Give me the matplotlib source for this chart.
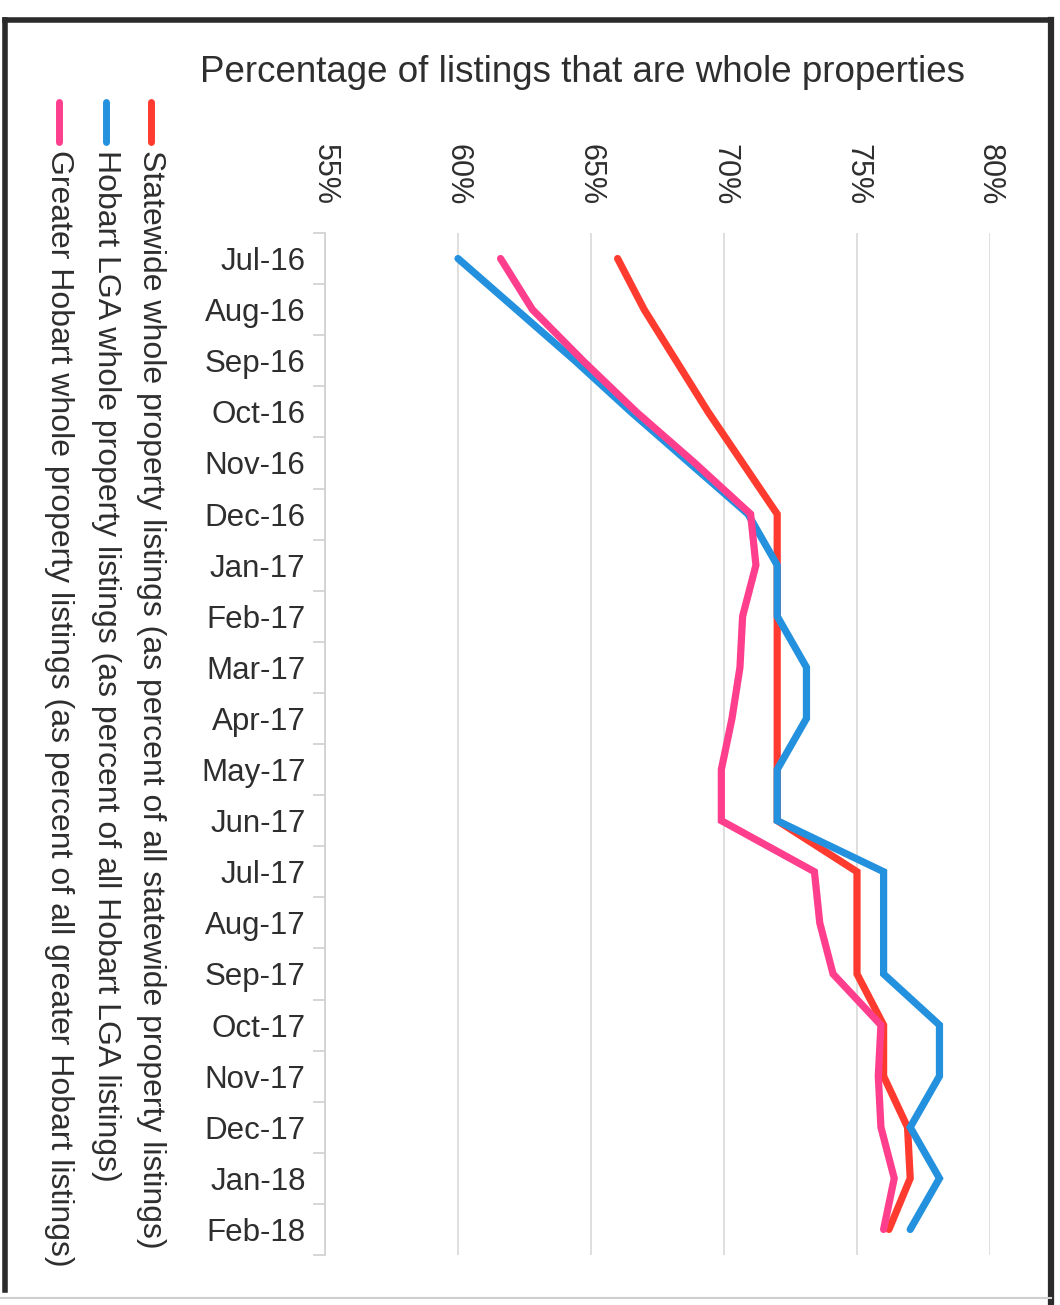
import matplotlib
matplotlib.use("Agg")
import matplotlib.pyplot as plt
from matplotlib.lines import Line2D

plt.rcParams['font.family'] = ['Liberation Sans', 'DejaVu Sans']

# Monthly categories
months = ["Jul-16", "Aug-16", "Sep-16", "Oct-16", "Nov-16", "Dec-16",
          "Jan-17", "Feb-17", "Mar-17", "Apr-17", "May-17", "Jun-17",
          "Jul-17", "Aug-17", "Sep-17", "Oct-17", "Nov-17", "Dec-17",
          "Jan-18", "Feb-18"]

# Percentage of listings that are whole properties
statewide = [66.0, 67.0, 68.2, 69.4, 70.7, 72.0, 72.0, 72.0, 72.0, 72.0,
             72.0, 72.0, 75.0, 75.0, 75.0, 76.0, 76.0, 76.9, 77.0, 76.2]
hobart_lga = [60.0, 62.2, 64.4, 66.5, 68.7, 70.9, 72.0, 72.0, 73.1, 73.1,
              72.0, 72.0, 76.0, 76.0, 76.0, 78.1, 78.1, 77.0, 78.1, 77.0]
greater_hobart = [61.6, 62.8, 64.7, 66.7, 68.9, 71.0, 71.2, 70.7, 70.6, 70.3,
                  69.9, 69.9, 73.4, 73.6, 74.1, 75.9, 75.8, 75.9, 76.4, 76.0]

series_labels = [
    "Statewide whole property listings (as percent of all statewide property listings)",
    "Hobart LGA whole property listings (as percent of all Hobart LGA listings)",
    "Greater Hobart whole property listings (as percent of all greater Hobart listings)",
]
series_colors = ["#FF3B2F", "#2391DE", "#FF3F8E"]
pct_ticks = [55, 60, 65, 70, 75, 80]

title = "Percentage of listings that are whole properties"
text_color = "#2E2E2E"

W, H = 1060, 1305
fig = plt.figure(figsize=(W / 100, H / 100), dpi=100)
fig.patch.set_facecolor("white")

# plot area in pixel terms
left_px, right_px, top_px, bottom_px = 325, 990, 233, 1255
ax = fig.add_axes([left_px / W, 1 - bottom_px / H,
                   (right_px - left_px) / W, (bottom_px - top_px) / H])

pos = list(range(len(months)))
for vals, col in zip([statewide, hobart_lga, greater_hobart], series_colors):
    ax.plot(vals, pos, color=col, lw=5.2, solid_joinstyle="miter",
            solid_capstyle="round", zorder=3)

ax.set_xlim(pct_ticks[0], pct_ticks[-1])
ax.set_ylim(len(months) - 0.5, -0.5)

ax.xaxis.tick_top()
ax.set_xticks(pct_ticks)
ax.set_xticklabels([f"{t}%" for t in pct_ticks], rotation=270,
                   fontsize=22, color=text_color)
ax.tick_params(axis="x", length=0, pad=20)
ax.grid(axis="x", color="#D9D9D9", lw=1.2, zorder=0)

ax.set_yticks(pos)
ax.set_yticklabels(months, fontsize=22.5, color=text_color)
ax.set_yticks([p - 0.5 for p in pos] + [len(months) - 0.5], minor=True)
ax.tick_params(axis="y", which="major", length=0, pad=14)
ax.tick_params(axis="y", which="minor", length=9, width=1.2, color="#D0D0D0")

for side in ["top", "right", "bottom"]:
    ax.spines[side].set_visible(False)
ax.spines["left"].set_color("#D0D0D0")
ax.spines["left"].set_linewidth(1.2)

# Title
fig.text(583 / W, 1 - 72 / H, title, fontsize=26.5, color=text_color,
         ha="center", va="center")

# Legend drawn as vertical entries down the left side
legend_x = [151, 106, 59]
for x, lab, col in zip(legend_x, series_labels, series_colors):
    fig.add_artist(Line2D([x / W, x / W], [1 - 102 / H, 1 - 142 / H],
                          color=col, lw=5, solid_capstyle="round"))
    fig.text(x / W, 1 - 150 / H, lab, rotation=270, fontsize=23,
             color=text_color, ha="center", va="top")

# Frame around the chart
dark = "#2B2B2B"
fig.add_artist(Line2D([5 / W, 1051 / W], [1 - 20 / H, 1 - 20 / H], color=dark, lw=4))
fig.add_artist(Line2D([5 / W, 5 / W], [1 - 20 / H, 1 - 1290 / H], color=dark, lw=4))
fig.add_artist(Line2D([1051 / W, 1051 / W], [1 - 20 / H, 1 - 1305 / H], color=dark, lw=4.5))
fig.add_artist(Line2D([0, 1051 / W], [1 - 1298 / H, 1 - 1298 / H], color="#CFCFCF", lw=1.5))

fig.savefig("out.png", dpi=100, facecolor="white")
